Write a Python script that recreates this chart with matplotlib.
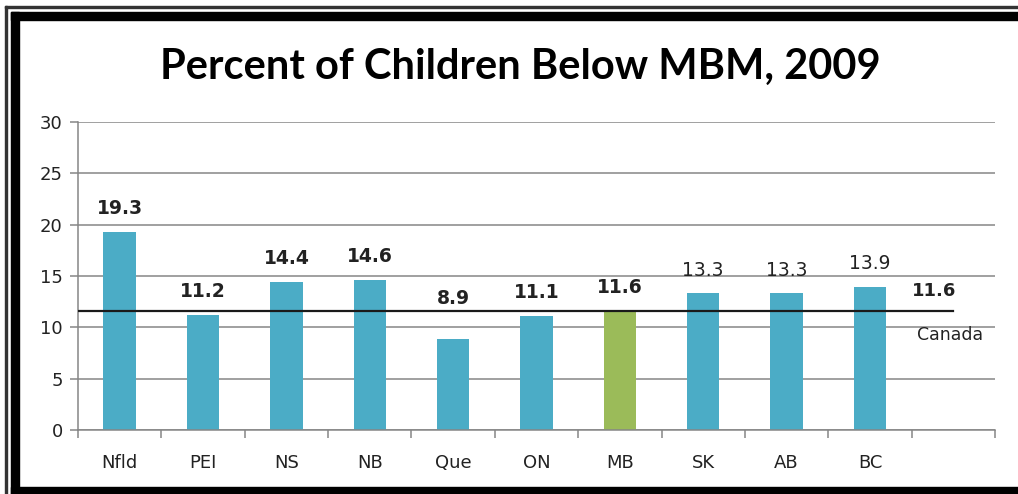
import matplotlib
matplotlib.use("Agg")
import matplotlib.pyplot as plt
from matplotlib.patches import Rectangle

# data
provinces = ['Nfld', 'PEI', 'NS', 'NB', 'Que', 'ON', 'MB', 'SK', 'AB', 'BC']
values = [19.3, 11.2, 14.4, 14.6, 8.9, 11.1, 11.6, 13.3, 13.3, 13.9]
bold_labels = [True, True, True, True, True, True, True, False, False, False]
canada = 11.6
highlight = 'MB'

# the Que label was nudged up in the original, off its bar
label_anchor = {'Que': 10.5}

blue = '#4bacc6'
green = '#9bbb59'
grid_col = '#868686'
txt_col = '#222222'

fig = plt.figure(figsize=(10.18, 4.94), dpi=100)
W, H = 1018, 494

# frame around the chart (pixel coords converted to figure fraction)
def px_rect(x0, y0, x1, y1, color):
    fig.patches.append(Rectangle((x0 / W, 1 - y1 / H), (x1 - x0) / W, (y1 - y0) / H,
                                 transform=fig.transFigure, color=color, zorder=0))

px_rect(5, 6, W, 8, '#333333')      # thin top line
px_rect(5, 6, 7, H, '#333333')      # thin left line
px_rect(11, 12, W, 20, 'black')     # thick top
px_rect(11, 12, 19, H, 'black')     # thick left
px_rect(11, 487, W, H, 'black')     # thick bottom

ax = fig.add_axes([78 / W, 1 - 430 / H, (995 - 78) / W, (430 - 122) / H])

n = len(provinces) + 1  # one empty slot for the Canada label
x = list(range(len(provinces)))
colors = [green if p == highlight else blue for p in provinces]
ax.bar(x, values, width=0.39, color=colors, zorder=2)

ax.set_xlim(-0.5, n - 0.5)
ax.set_ylim(0, 30)
ax.set_yticks(range(0, 31, 5))
ax.yaxis.grid(True, color=grid_col, linewidth=1.1, zorder=0)
ax.set_axisbelow(True)

# ticks at category boundaries, labels at centres
ax.set_xticks([i - 0.5 for i in range(n + 1)])
ax.set_xticklabels([])
ax.set_xticks(range(n), minor=True)
ax.set_xticklabels(provinces + [''], minor=True)
ax.tick_params(axis='x', which='major', length=6, color=grid_col, width=1.1, direction='out')
ax.tick_params(axis='x', which='minor', length=0, pad=17, labelsize=13, labelcolor=txt_col)
ax.tick_params(axis='y', length=6, color=grid_col, width=1.1, labelsize=13, labelcolor=txt_col, pad=5)

for s in ['top', 'right']:
    ax.spines[s].set_visible(False)
for s in ['left', 'bottom']:
    ax.spines[s].set_color(grid_col)
    ax.spines[s].set_linewidth(1.1)

# bar value labels
for p, xi, v, b in zip(provinces, x, values, bold_labels):
    ax.annotate(f'{v:.1f}', (xi, label_anchor.get(p, v)), xytext=(0, 10),
                textcoords='offset points', ha='center', va='bottom', fontsize=13.5,
                fontweight='bold' if b else 'normal', color=txt_col)

# Canada reference line
ax.plot([-0.5, 10.0], [canada, canada], color='#1a1a1a', linewidth=1.6, zorder=3)
ax.text(9.5, 13.5, f'{canada:.1f}', fontsize=13, fontweight='bold',
        color=txt_col, ha='left', va='center')
ax.text(9.57, 9.25, 'Canada', fontsize=12.5, color=txt_col, ha='left', va='center')

fig.text(520 / W, 1 - 67 / H, 'Percent of Children Below MBM, 2009',
         family='Lato', fontweight='bold', fontsize=30, ha='center', va='center', color='black')

fig.savefig('out.png', dpi=100)
